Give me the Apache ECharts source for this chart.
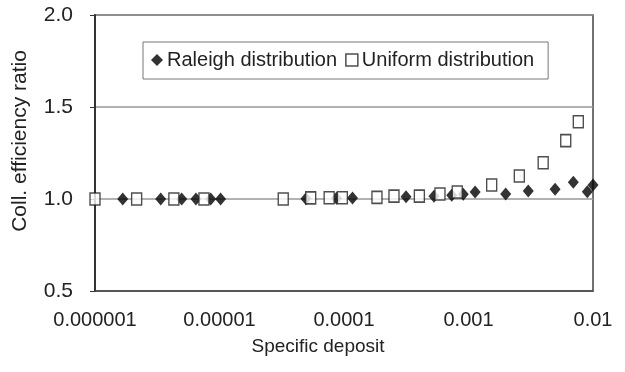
<!DOCTYPE html>
<html>
<head>
<meta charset="utf-8">
<script src="https://cdn.jsdelivr.net/npm/echarts@6/dist/echarts.min.js"></script>
<style>html,body{margin:0;padding:0;background:#fff}#c{width:625px;height:372px}</style>
</head>
<body>
<div id="c"></div>
<script>
// Raleigh distribution: [specific deposit, efficiency ratio]
var raleighX = [1.67e-6, 3.37e-6, 4.97e-6, 6.47e-6, 8.5e-6, 1.02e-5, 4.95e-5, 8.7e-5, 1.17e-4, 3.15e-4, 5.28e-4, 7.33e-4, 9.08e-4, 1.13e-3, 1.99e-3, 3.02e-3, 4.96e-3, 6.95e-3, 9.0e-3, 1.0e-2];
var raleighY = [1.0, 1.0, 1.0, 1.0, 1.0, 1.0, 1.002, 1.004, 1.005, 1.012, 1.015, 1.02, 1.026, 1.038, 1.027, 1.043, 1.053, 1.091, 1.04, 1.076];
// Uniform distribution
var uniformX = [1.0e-6, 2.16e-6, 4.3e-6, 7.5e-6, 3.25e-5, 5.4e-5, 7.6e-5, 9.7e-5, 1.84e-4, 2.52e-4, 4.03e-4, 5.9e-4, 8.12e-4, 1.535e-3, 2.56e-3, 3.98e-3, 6.04e-3, 7.62e-3];
var uniformY = [1.0, 1.0, 1.0, 1.0, 1.0, 1.006, 1.007, 1.007, 1.009, 1.016, 1.016, 1.027, 1.038, 1.076, 1.125, 1.197, 1.317, 1.42];
var xTickLabels = ['0.000001', '0.00001', '0.0001', '0.001', '0.01'];
var yTickLabels = ['0.5', '1.0', '1.5', '2.0'];
var seriesNames = ['Raleigh distribution', 'Uniform distribution'];

function zip(xs, ys) { return xs.map(function (x, i) { return [x, ys[i]]; }); }

var font = 'Liberation Sans';
var chart = echarts.init(document.getElementById('c'), null, {renderer: 'canvas'});
chart.setOption({
  animation: false,
  backgroundColor: '#fff',
  textStyle: {fontFamily: font},
  grid: {left: 95, right: 32, top: 15, bottom: 81, containLabel: false, outerBoundsMode: 'none',
    show: true, borderColor: '#444', borderWidth: 1.5},
  legend: {
    left: 143, top: 42, width: 420,
    padding: [8, 14, 9, 8],
    borderColor: '#777', borderWidth: 1,
    itemGap: 8, itemWidth: 12, itemHeight: 12,
    textStyle: {fontSize: 20, color: '#222', fontFamily: font, padding: [0, 0, 0, -1]},
    data: [
      {name: seriesNames[0], icon: 'diamond', itemStyle: {color: '#000'}},
      {name: seriesNames[1], icon: 'rect', itemStyle: {color: '#fff', borderColor: '#222', borderWidth: 1.5}}
    ]
  },
  xAxis: {
    type: 'log', logBase: 10, min: 1e-6, max: 1e-2,
    name: 'Specific deposit', nameLocation: 'middle', nameGap: 46,
    nameTextStyle: {fontSize: 19, color: '#222', fontFamily: font, padding: [0, 52, 0, 0]},
    axisLine: {lineStyle: {color: '#444', width: 1.5}},
    axisTick: {show: false},
    splitLine: {show: false},
    axisLabel: {
      fontSize: 20, color: '#222', margin: 19, fontFamily: font,
      formatter: function (v) { return xTickLabels[Math.round(Math.log10(v) + 6)]; }
    }
  },
  yAxis: {
    type: 'value', min: 0.5, max: 2.0, interval: 0.5,
    name: 'Coll. efficiency ratio', nameLocation: 'middle', nameGap: 64,
    nameTextStyle: {fontSize: 21, color: '#222', fontFamily: font, padding: [0, 0, 0, 24]},
    axisLine: {show: true, lineStyle: {color: '#333', width: 2}},
    axisTick: {show: true, length: 5, lineStyle: {color: '#333'}},
    splitLine: {show: true, lineStyle: {color: '#999', width: 1.5}},
    axisLabel: {
      fontSize: 21, color: '#222', margin: 22, fontFamily: font,
      formatter: function (v) { return yTickLabels[Math.round((v - 0.5) / 0.5)]; }
    }
  },
  series: [
    {
      name: seriesNames[0], type: 'scatter', symbol: 'diamond', symbolSize: [11, 13],
      itemStyle: {color: '#000'},
      data: zip(raleighX, raleighY), z: 2
    },
    {
      name: seriesNames[1], type: 'scatter', symbol: 'rect', symbolSize: [10, 12],
      itemStyle: {color: '#fff', borderColor: '#222', borderWidth: 1.5},
      data: zip(uniformX, uniformY), z: 3
    }
  ]
});
</script>
</body>
</html>
